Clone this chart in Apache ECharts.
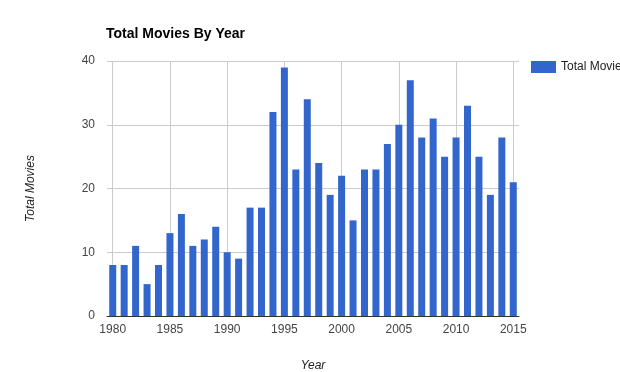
<!DOCTYPE html>
<html><head><meta charset="utf-8">
<script src="https://cdn.jsdelivr.net/npm/echarts@6/dist/echarts.min.js"></script>
<style>html,body{margin:0;padding:0;background:#fff}#c{width:620px;height:372px}</style>
</head><body><div id="c"></div>
<script>
const years = [1980,1981,1982,1983,1984,1985,1986,1987,1988,1989,1990,1991,1992,1993,1994,1995,1996,1997,1998,1999,2000,2001,2002,2003,2004,2005,2006,2007,2008,2009,2010,2011,2012,2013,2014,2015];
const totalMovies = [8,8,11,5,8,13,16,11,12,14,10,9,17,17,32,39,23,34,24,19,22,15,23,23,27,30,37,28,31,25,28,33,25,19,28,21];
const yTicks = [0,10,20,30,40];
const xTickStep = 5;

const chart = echarts.init(document.getElementById('c'), null, {renderer:'canvas'});
const font = 'Arial, "Liberation Sans", sans-serif';
chart.setOption({
  animation:false,
  title:{text:'Total Movies By Year', left:106, top:27, padding:0,
    textStyle:{fontFamily:font, fontSize:14, fontWeight:'bold', color:'#000'}},
  legend:{left:531, top:61, padding:0, itemWidth:25, itemHeight:12, itemGap:5,
    textStyle:{fontFamily:font, fontSize:12, color:'#222'},
    data:[{name:'Total Movie', icon:'rect'}]},
  grid:{left:107, right:101, top:61, bottom:56, outerBoundsMode:'none', containLabel:false},
  xAxis:{type:'value', min:years[0]-0.5, max:years[years.length-1]+0.5, splitNumber:7,
    name:'Year', nameLocation:'middle', nameGap:44,
    nameTextStyle:{fontFamily:font, fontSize:12, fontStyle:'italic', color:'#222'},
    axisLine:{show:true, lineStyle:{color:'#333', width:1}},
    axisTick:{show:false},
    axisLabel:{fontFamily:font, fontSize:12, color:'#444', margin:8,
      showMinLabel:false, showMaxLabel:false,
      formatter:v => (Math.abs(v % xTickStep) < 1e-6 ? String(v) : '')},
    splitLine:{show:true, showMinLine:false, showMaxLine:false, lineStyle:{color:'#cccccc', width:1}}},
  yAxis:{type:'value', min:yTicks[0], max:yTicks[yTicks.length-1], interval:10,
    name:'Total Movies', nameLocation:'middle', nameGap:70, nameRotate:90,
    nameTextStyle:{fontFamily:font, fontSize:12, fontStyle:'italic', color:'#222'},
    axisLine:{show:false}, axisTick:{show:false},
    axisLabel:{fontFamily:font, fontSize:12, color:'#444', margin:12},
    splitLine:{lineStyle:{color:'#cccccc', width:1}}},
  series:[{name:'Total Movie', type:'bar', barWidth:7,
    itemStyle:{color:'#3366cc'},
    data: years.map((y,i)=>[y,totalMovies[i]])}]
});
</script></body></html>
